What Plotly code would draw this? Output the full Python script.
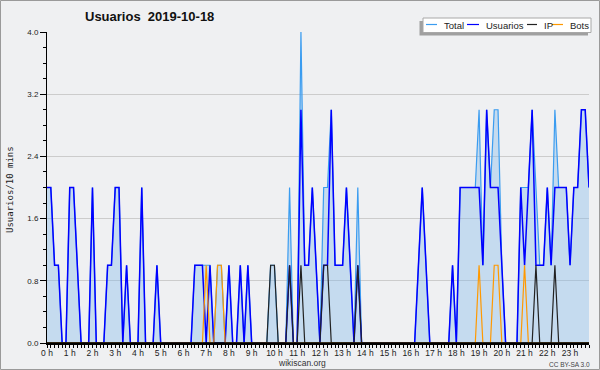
import plotly.graph_objects as go

# ---- data: one value per 10-minute slot (144 slots, 00:00 .. 23:50) ----
hour_labels = ["0 h", "1 h", "2 h", "3 h", "4 h", "5 h", "6 h", "7 h", "8 h", "9 h",
               "10 h", "11 h", "12 h", "13 h", "14 h", "15 h", "16 h", "17 h",
               "18 h", "19 h", "20 h", "21 h", "22 h", "23 h"]
y_tick_values = [0.0, 0.8, 1.6, 2.4, 3.2, 4.0]

total = [
    2, 2, 1, 1, 0, 0,   # 0 h
    2, 2, 1, 0, 0, 0,   # 1 h
    2, 0, 0, 0, 1, 1,   # 2 h
    2, 2, 0, 1, 0, 0,   # 3 h
    0, 2, 0, 0, 0, 1,   # 4 h
    0, 0, 0, 0, 0, 0,   # 5 h
    0, 0, 0, 1, 1, 1,   # 6 h
    1, 1, 0, 1, 1, 0,   # 7 h
    1, 0, 0, 1, 0, 1,   # 8 h
    0, 0, 0, 0, 0, 1,   # 9 h
    1, 0, 0, 0, 2, 0,   # 10 h
    0, 4, 1, 1, 2, 1,   # 11 h
    0, 2, 2, 3, 1, 1,   # 12 h
    1, 2, 1, 0, 2, 0,   # 13 h
    0, 0, 0, 0, 0, 0,   # 14 h
    0, 0, 0, 0, 0, 0,   # 15 h
    0, 0, 1, 2, 1, 0,   # 16 h
    0, 0, 0, 0, 0, 1,   # 17 h
    0, 2, 2, 2, 2, 2,   # 18 h
    3, 1, 3, 2, 3, 3,   # 19 h
    1, 0, 0, 0, 0, 2,   # 20 h
    2, 2, 3, 2, 1, 1,   # 21 h
    2, 1, 3, 2, 2, 2,   # 22 h
    1, 2, 2, 3, 3, 2,   # 23 h
]

usuarios = [
    2, 2, 1, 1, 0, 0,   # 0 h
    2, 2, 1, 0, 0, 0,   # 1 h
    2, 0, 0, 0, 1, 1,   # 2 h
    2, 2, 0, 1, 0, 0,   # 3 h
    0, 2, 0, 0, 0, 1,   # 4 h
    0, 0, 0, 0, 0, 0,   # 5 h
    0, 0, 0, 1, 1, 1,   # 6 h
    0, 1, 0, 0, 0, 0,   # 7 h
    1, 0, 0, 1, 0, 1,   # 8 h
    0, 0, 0, 0, 0, 0,   # 9 h
    0, 0, 0, 0, 1, 0,   # 10 h
    0, 3, 1, 1, 2, 1,   # 11 h
    0, 1, 1, 3, 1, 1,   # 12 h
    1, 2, 1, 0, 1, 0,   # 13 h
    0, 0, 0, 0, 0, 0,   # 14 h
    0, 0, 0, 0, 0, 0,   # 15 h
    0, 0, 1, 2, 1, 0,   # 16 h
    0, 0, 0, 0, 0, 1,   # 17 h
    0, 2, 2, 2, 2, 2,   # 18 h
    2, 1, 3, 2, 2, 2,   # 19 h
    1, 0, 0, 0, 0, 2,   # 20 h
    1, 2, 3, 1, 1, 1,   # 21 h
    2, 1, 2, 2, 2, 2,   # 22 h
    1, 2, 2, 3, 3, 2,   # 23 h
]

ip = [
    0, 0, 0, 0, 0, 0,   # 0 h
    0, 0, 0, 0, 0, 0,   # 1 h
    0, 0, 0, 0, 0, 0,   # 2 h
    0, 0, 0, 0, 0, 0,   # 3 h
    0, 0, 0, 0, 0, 0,   # 4 h
    0, 0, 0, 0, 0, 0,   # 5 h
    0, 0, 0, 0, 0, 0,   # 6 h
    0, 0, 0, 0, 0, 0,   # 7 h
    0, 0, 0, 0, 0, 0,   # 8 h
    0, 0, 0, 0, 0, 1,   # 9 h
    1, 0, 0, 0, 1, 0,   # 10 h
    0, 1, 0, 0, 0, 0,   # 11 h
    0, 1, 1, 0, 0, 0,   # 12 h
    0, 0, 0, 0, 1, 0,   # 13 h
    0, 0, 0, 0, 0, 0,   # 14 h
    0, 0, 0, 0, 0, 0,   # 15 h
    0, 0, 0, 0, 0, 0,   # 16 h
    0, 0, 0, 0, 0, 0,   # 17 h
    0, 0, 0, 0, 0, 0,   # 18 h
    0, 0, 0, 0, 0, 0,   # 19 h
    0, 0, 0, 0, 0, 0,   # 20 h
    0, 0, 0, 1, 0, 0,   # 21 h
    0, 0, 1, 0, 0, 0,   # 22 h
    0, 0, 0, 0, 0, 0,   # 23 h
]

bots = [
    0, 0, 0, 0, 0, 0,   # 0 h
    0, 0, 0, 0, 0, 0,   # 1 h
    0, 0, 0, 0, 0, 0,   # 2 h
    0, 0, 0, 0, 0, 0,   # 3 h
    0, 0, 0, 0, 0, 0,   # 4 h
    0, 0, 0, 0, 0, 0,   # 5 h
    0, 0, 0, 0, 0, 0,   # 6 h
    1, 0, 0, 1, 1, 0,   # 7 h
    0, 0, 0, 0, 0, 0,   # 8 h
    0, 0, 0, 0, 0, 0,   # 9 h
    0, 0, 0, 0, 0, 0,   # 10 h
    0, 0, 0, 0, 0, 0,   # 11 h
    0, 0, 0, 0, 0, 0,   # 12 h
    0, 0, 0, 0, 0, 0,   # 13 h
    0, 0, 0, 0, 0, 0,   # 14 h
    0, 0, 0, 0, 0, 0,   # 15 h
    0, 0, 0, 0, 0, 0,   # 16 h
    0, 0, 0, 0, 0, 0,   # 17 h
    0, 0, 0, 0, 0, 0,   # 18 h
    1, 0, 0, 0, 1, 1,   # 19 h
    0, 0, 0, 0, 0, 0,   # 20 h
    1, 0, 0, 0, 0, 0,   # 21 h
    0, 0, 0, 0, 0, 0,   # 22 h
    0, 0, 0, 0, 0, 0,   # 23 h
]

slots = list(range(len(total)))          # 10-minute slot index
hour_slots = slots[::6]                  # slot index of each full hour

# ---- layout geometry (pixels) ----
W, H = 600, 370
L, R, T, B = 47, 11, 32, 27
PW, PH = W - L - R, H - T - B


def px(X):
    return (X - L) / PW


def py(Y):
    return (H - B - Y) / PH


C_TOTAL = "#3a9cf0"
C_USR = "#0000ff"
C_IP = "#222222"
C_BOTS = "#ff9900"
FONT = "Liberation Sans"

fig = go.Figure()
fig.add_trace(go.Scatter(x=slots, y=total, name="Total", mode="lines",
                         line=dict(color=C_TOTAL, width=1.2),
                         fill="tozeroy", fillcolor="rgba(120,180,235,0.35)"))
fig.add_trace(go.Scatter(x=slots, y=usuarios, name="Usuarios", mode="lines",
                         line=dict(color=C_USR, width=1.5)))
fig.add_trace(go.Scatter(x=slots, y=ip, name="IP", mode="lines",
                         line=dict(color=C_IP, width=1.2)))
fig.add_trace(go.Scatter(x=slots, y=bots, name="Bots", mode="lines",
                         line=dict(color=C_BOTS, width=1.2)))

fig.update_layout(
    width=W, height=H,
    margin=dict(l=L, r=R, t=T, b=B, pad=0),
    paper_bgcolor="#eff0f2",
    plot_bgcolor="#eff0f2",
    showlegend=False,
    title=dict(text="<b>Usuarios  2019-10-18</b>", x=85 / W, xref="container",
               xanchor="left", y=1 - 16 / H, yref="container", yanchor="middle",
               font=dict(family=FONT, size=13, color="#111111")),
)

fig.update_xaxes(
    range=[0, len(total) - 1],
    tickmode="array", tickvals=hour_slots, ticktext=hour_labels,
    ticks="outside", ticklen=3, tickwidth=1, tickcolor="#000000",
    ticklabelstandoff=-2,
    tickfont=dict(family=FONT, size=8.5, color="#222222"),
    showline=True, linecolor="#000000", linewidth=1.5,
    showgrid=False, zeroline=False, layer="above traces",
    minor=dict(tickmode="linear", tick0=0, dtick=1, ticks="outside",
               ticklen=3, tickcolor="#000000", showgrid=False),
)

fig.update_yaxes(
    range=[0, 4],
    tickmode="array", tickvals=y_tick_values,
    ticktext=[f"{v:.1f}" for v in y_tick_values],
    ticks="outside", ticklen=6, tickwidth=1, tickcolor="#000000",
    tickfont=dict(family=FONT, size=8, color="#222222"),
    showline=True, linecolor="#000000", linewidth=1,
    showgrid=True, gridcolor="#cccccc", gridwidth=1, zeroline=False,
    minor=dict(tickmode="linear", tick0=0, dtick=0.2, ticks="outside",
               ticklen=3, tickcolor="#000000", showgrid=False),
)

shapes = []
annotations = []

# black base line drawn over the zero-valued series (as in the reference)
shapes.append(dict(type="line", xref="paper", yref="y",
                   x0=0, x1=1, y0=0, y1=0,
                   line=dict(color="#000000", width=1.6), layer="above"))

# outer frame of the image
shapes.append(dict(type="rect", xref="paper", yref="paper",
                   x0=px(0.5), x1=px(W - 0.5), y0=py(H - 0.5), y1=py(0.5),
                   line=dict(color="#9a9a9a", width=1), fillcolor="rgba(0,0,0,0)",
                   layer="above"))

# custom legend (shadow, box, samples, labels)
shapes.append(dict(type="rect", xref="paper", yref="paper",
                   x0=px(419.5), x1=px(588), y0=py(35.5), y1=py(21),
                   line=dict(width=0), fillcolor="#a0a0a0", layer="above"))
shapes.append(dict(type="rect", xref="paper", yref="paper",
                   x0=px(423), x1=px(591), y0=py(32.5), y1=py(18),
                   line=dict(color="#a8a8a8", width=1), fillcolor="#ffffff",
                   layer="above"))
legend_items = [("Total", C_TOTAL, 426, 437, 442),
                ("Usuarios", C_USR, 467, 479, 484),
                ("IP", C_IP, 527, 537, 542),
                ("Bots", C_BOTS, 552, 563, 568)]
for name, col, lx0, lx1, tx in legend_items:
    shapes.append(dict(type="line", xref="paper", yref="paper",
                       x0=px(lx0), x1=px(lx1), y0=py(24.5), y1=py(24.5),
                       line=dict(color=col, width=1.2), layer="above"))
    annotations.append(dict(text=name, xref="paper", yref="paper",
                            x=px(tx), y=py(25), xanchor="left", yanchor="middle",
                            showarrow=False,
                            font=dict(family=FONT, size=9.5, color="#222222")))

# y axis title
annotations.append(dict(text="Usuarios/10 mins", xref="paper", yref="paper",
                        x=px(10), y=py(190), textangle=-90,
                        xanchor="center", yanchor="middle", showarrow=False,
                        font=dict(family="DejaVu Sans Mono", size=9, color="#222222")))
# footer texts
annotations.append(dict(text="wikiscan.org", xref="paper", yref="paper",
                        x=px(302), y=py(363.5), xanchor="center", yanchor="middle",
                        showarrow=False,
                        font=dict(family=FONT, size=8.5, color="#333333")))
annotations.append(dict(text="CC BY-SA 3.0", xref="paper", yref="paper",
                        x=px(592), y=py(364), xanchor="right", yanchor="middle",
                        showarrow=False,
                        font=dict(family=FONT, size=6.5, color="#444444")))

fig.update_layout(shapes=shapes, annotations=annotations)

fig.write_html("out.html")
